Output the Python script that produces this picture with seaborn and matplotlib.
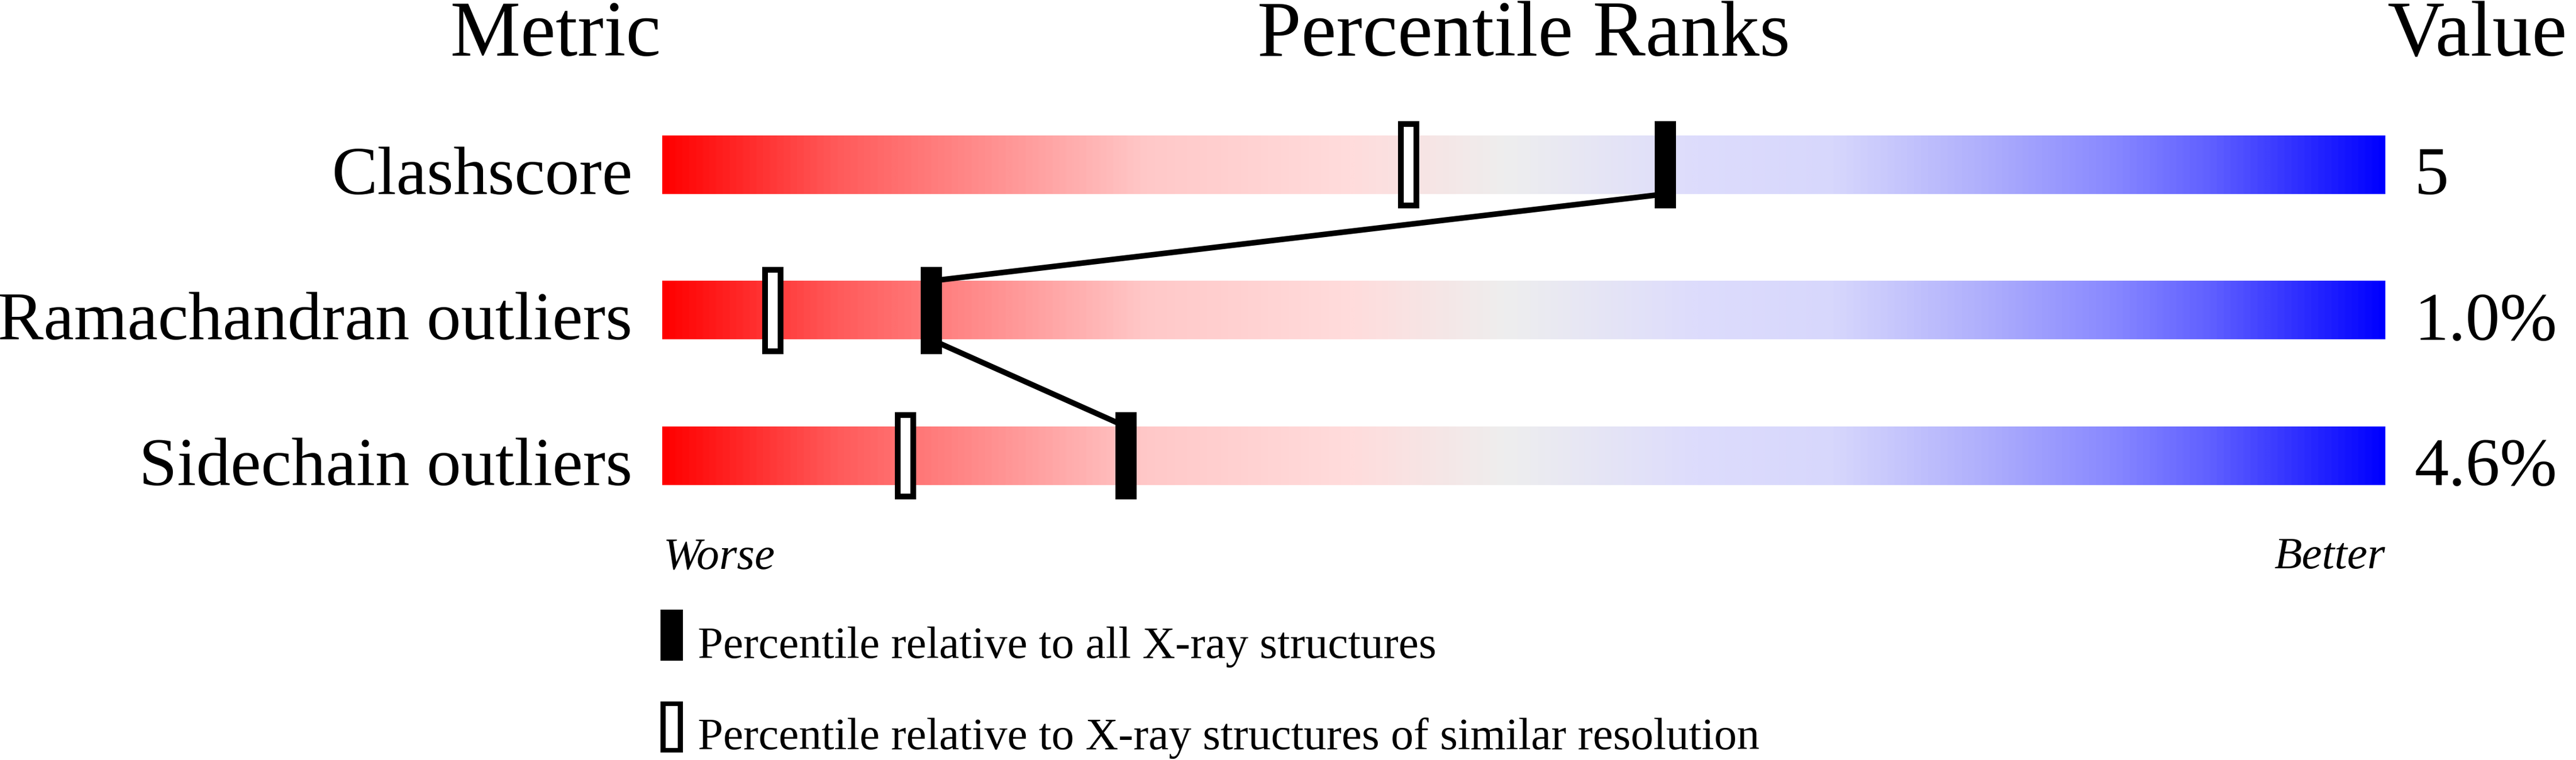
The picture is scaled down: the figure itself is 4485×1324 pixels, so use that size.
import numpy as np
import pandas as pd
import matplotlib
matplotlib.use("Agg")
import matplotlib.pyplot as plt
import seaborn as sns
from matplotlib.colors import LinearSegmentedColormap
from matplotlib.patches import Rectangle

# ---------------- data ----------------
metrics = ["Clashscore", "Ramachandran outliers", "Sidechain outliers"]
values = ["5", "1.0%", "4.6%"]
pct_all = [58.2, 15.6, 26.9]        # percentile relative to all X-ray structures
pct_similar = [43.3, 6.4, 14.1]     # percentile relative to similar resolution
header_labels = ["Metric", "Percentile Ranks", "Value"]
scale_labels = ["Worse", "Better"]
legend_labels = ["Percentile relative to all X-ray structures",
                 "Percentile relative to X-ray structures of similar resolution"]

grad_pos = [0.00, 0.10, 0.20, 0.28, 0.40, 0.49, 0.60, 0.68, 0.77, 0.84, 0.90, 1.00]
grad_col = ["#ff0000", "#ff5a5a", "#ff9696", "#ffc8c8", "#ffdcdc", "#eeeeee",
            "#dddcfc", "#d7d7fc", "#aeaefc", "#8a8aff", "#6060ff", "#0000ff"]

# ---------------- style ----------------
sns.set_theme(style="white")
plt.rcParams["font.family"] = ["Liberation Serif", "DejaVu Serif"]
plt.rcParams["text.color"] = "black"

W, H = 4485, 1324
fig = plt.figure(figsize=(W / 100, H / 100), dpi=100)
fig.patch.set_facecolor("white")

row_px = 253.5
ax_left, ax_w = 1153, 3000
ax_top = 287 - row_px / 2
ax = fig.add_axes([ax_left / W, 1 - (ax_top + 3 * row_px) / H, ax_w / W, 3 * row_px / H])

px_x = 100 / ax_w          # data units per pixel (x)
px_y = 1 / row_px          # data units per pixel (y)
bar_h = 102 * px_y
mk_w = 37 * px_x
mk_h = 152 * px_y
inset_x = 10 * px_x
inset_y = 10 * px_y

cmap = LinearSegmentedColormap.from_list("grad", list(zip(grad_pos, grad_col)))
grad = np.linspace(0, 1, 1024).reshape(1, -1)

for i, m in enumerate(metrics):
    ax.imshow(grad, cmap=cmap, aspect="auto", interpolation="bilinear",
              extent=(0, 100, i + bar_h / 2, i - bar_h / 2), zorder=1)

# connecting line between "all" markers
lx, ly = [], []
for i, p in enumerate(pct_all):
    if i > 0:
        lx.append(p); ly.append(i - bar_h / 2)
    if i < len(pct_all) - 1:
        lx.append(p); ly.append(i + bar_h / 2)
line_df = pd.DataFrame({"x": lx, "y": ly})
sns.lineplot(data=line_df, x="x", y="y", sort=False, estimator=None, color="black",
             linewidth=7, legend=False, ax=ax, zorder=2)
for ln in ax.lines:
    ln.set_linewidth(7)
    ln.set_solid_capstyle("butt")
ax.set_xlim(0, 100)
ax.set_ylim(2.5, -0.5)
ax.axis("off")

for i, (pa, ps) in enumerate(zip(pct_all, pct_similar)):
    ax.add_patch(Rectangle((pa - mk_w / 2, i - mk_h / 2), mk_w, mk_h,
                           facecolor="black", edgecolor="none", zorder=3))
    ax.add_patch(Rectangle((ps - mk_w / 2, i - mk_h / 2), mk_w, mk_h,
                           facecolor="black", edgecolor="none", zorder=3))
    ax.add_patch(Rectangle((ps - mk_w / 2 + inset_x, i - mk_h / 2 + inset_y),
                           mk_w - 2 * inset_x, mk_h - 2 * inset_y,
                           facecolor="white", edgecolor="none", zorder=4))

for i, (m, v) in enumerate(zip(metrics, values)):
    ax.annotate(m, xy=(0, i + bar_h / 2), xytext=(-52, 0), textcoords="offset pixels",
                ha="right", va="baseline", fontsize=86, color="black")
    ax.annotate(v, xy=(100, i + bar_h / 2), xytext=(51, 0), textcoords="offset pixels",
                ha="left", va="baseline", fontsize=86, color="black")

# headers
fig.text(1151 / W, 1 - 97 / H, header_labels[0], ha="right", va="baseline", fontsize=99, color="black")
fig.text(2653 / W, 1 - 97 / H, header_labels[1], ha="center", va="baseline", fontsize=99, color="black")
fig.text(4156 / W, 1 - 97 / H, header_labels[2], ha="left", va="baseline", fontsize=99, color="black")

# worse / better
fig.text(1155 / W, 1 - 990 / H, scale_labels[0], ha="left", va="baseline",
         fontsize=57, style="italic", color="black")
fig.text(4153 / W, 1 - 990 / H, scale_labels[1], ha="right", va="baseline",
         fontsize=57, style="italic", color="black")

# legend
leg_x, leg_w, leg_h = 1150, 39, 89
for k, (lab, top, base) in enumerate(zip(legend_labels, [1062, 1222], [1146, 1305])):
    fig.add_artist(Rectangle((leg_x / W, 1 - (top + leg_h) / H), leg_w / W, leg_h / H,
                             transform=fig.transFigure, facecolor="black", edgecolor="none"))
    if k == 1:
        fig.add_artist(Rectangle(((leg_x + 9) / W, 1 - (top + leg_h - 8) / H),
                                 (leg_w - 18) / W, (leg_h - 16) / H,
                                 transform=fig.transFigure, facecolor="white", edgecolor="none"))
    fig.text(1215 / W, 1 - base / H, lab, ha="left", va="baseline", fontsize=57, color="black")

fig.savefig("out.png", dpi=100, facecolor="white")
